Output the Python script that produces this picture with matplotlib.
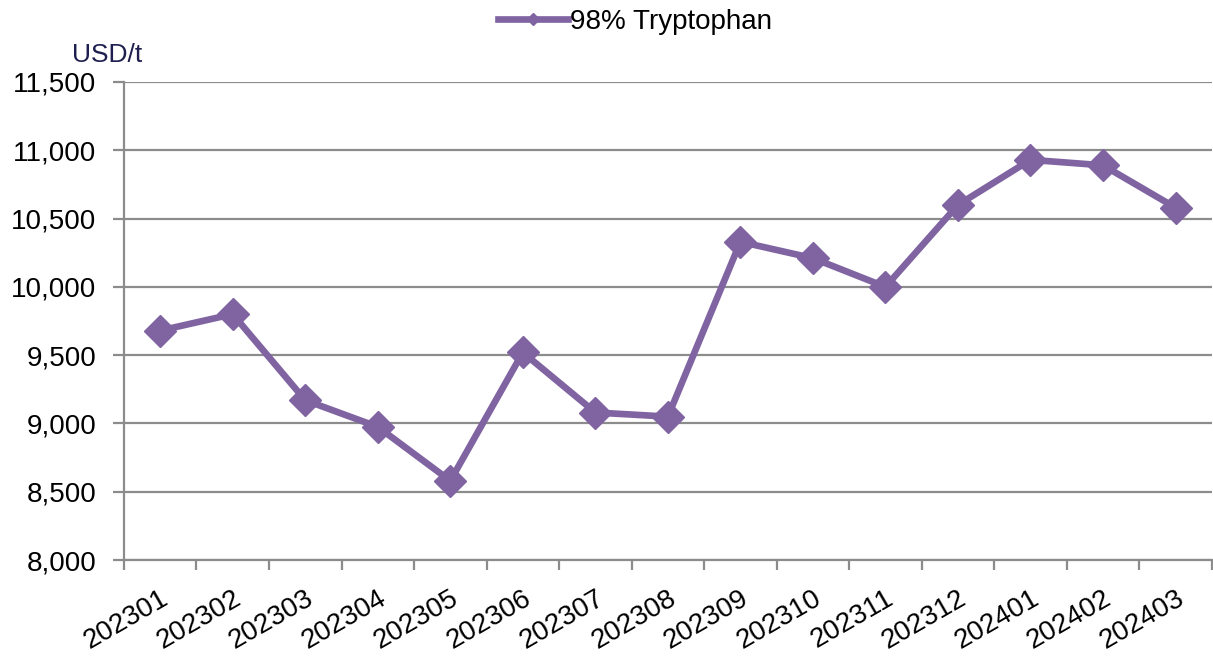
import numpy as np
import matplotlib.pyplot as plt
from matplotlib.ticker import FuncFormatter, FixedLocator

plt.rcParams['font.family'] = ['Liberation Sans', 'DejaVu Sans']

# ----- Data -----
months = ["202301", "202302", "202303", "202304", "202305", "202306", "202307",
          "202308", "202309", "202310", "202311", "202312", "202401", "202402",
          "202403"]
price = [9680, 9800, 9170, 8975, 8580, 9520, 9080,
         9050, 10330, 10210, 10000, 10600, 10930, 10890, 10580]

purple = "#8064A2"
grid_c = "#8c8c8c"

fig = plt.figure(figsize=(12.13, 6.57), dpi=100)
ax = fig.add_axes([0.1022, 0.1476, 0.8968, 0.7276])

x = np.arange(len(months))
ax.plot(x, price, color=purple, linewidth=4.8, marker="D", markersize=16,
        label="98% Tryptophan")

# ----- Axes -----
ax.set_xlim(-0.5, len(months) - 0.5)
ax.set_ylim(8000, 11500)
ax.set_yticks(np.arange(8000, 11501, 500))
ax.yaxis.set_major_formatter(FuncFormatter(lambda v, _: f"{v:,.0f}"))
ax.yaxis.grid(True, color=grid_c, linewidth=1.6)
ax.set_axisbelow(True)

ax.set_xticks(x)
ax.set_xticklabels(months, rotation=30, ha="right", rotation_mode="anchor")
ax.xaxis.set_minor_locator(FixedLocator(np.arange(-0.5, len(months), 1)))
ax.tick_params(axis="x", which="major", length=0, pad=18, labelsize=20)
ax.tick_params(axis="x", which="minor", length=7, width=1.6, color=grid_c)
ax.tick_params(axis="y", length=8, width=1.6, color=grid_c, pad=12,
               labelsize=20)

for side in ["top", "right"]:
    ax.spines[side].set_visible(False)
for side in ["left", "bottom"]:
    ax.spines[side].set_color(grid_c)
    ax.spines[side].set_linewidth(1.6)

fig.text(0.059, 0.905, "USD/t", fontsize=19, color="#1f1f4f")

leg = ax.legend(loc="lower center", bbox_to_anchor=(0.47, 1.07), frameon=False,
                fontsize=20, handlelength=2.5, handletextpad=0.1,
                markerscale=0.4, borderpad=0)

plt.savefig("out.png", dpi=100)
